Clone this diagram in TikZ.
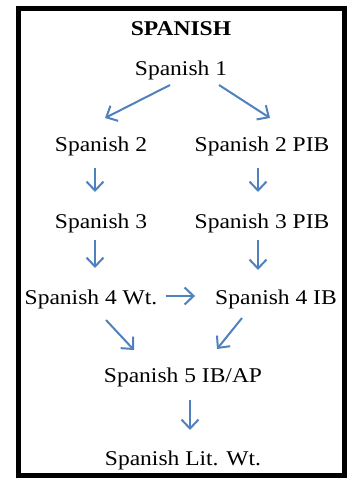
\documentclass[tikz,border=0pt]{standalone}
\usepackage{fontspec}
\setmainfont[FakeStretch=1.12]{Liberation Serif}
\usepackage{tikz}
\usetikzlibrary{arrows.meta}
\definecolor{officeblue}{RGB}{79, 129, 189}
\tikzset{
    course/.style={font=\fontsize{21}{25}\selectfont, inner sep=0pt, anchor=center},
    prereq/.style={officeblue, line width=2pt, -{Straight Barb[length=9pt, width=17pt, line width=2pt]}}
}

\begin{document}
\begin{tikzpicture}[x=1pt, y=-1pt]
            \useasboundingbox                                  (  0,   0) rectangle (347, 479);
            \draw[black, line width=5pt]                       ( 18,   8) rectangle (344, 475);
            \node[course, font=\fontsize{21}{25}\bfseries] (title) at (181,  29) {SPANISH};
            \node[course] (sp1)    at (181,  70) {Spanish 1};
            \node[course] (sp2)    at (101, 146) {Spanish 2};
            \node[course] (sp2pib) at (262, 146) {Spanish 2 PIB};
            \node[course] (sp3)    at (101, 223) {Spanish 3};
            \node[course] (sp3pib) at (262, 223) {Spanish 3 PIB};
            \node[course] (sp4wt)  at ( 91, 299) {Spanish 4 Wt.};
            \node[course] (sp4ib)  at (276, 299) {Spanish 4 IB};
            \node[course] (sp5)    at (183, 377) {Spanish 5 IB/AP};
            \node[course] (split)  at (183, 460) {Spanish Lit. Wt.};
            % arrows between the courses
            \draw[prereq] ([xshift=-11pt, yshift=-15pt]sp1.center)    -- ([xshift=4pt,  yshift=28pt]sp2.center);
            \draw[prereq] ([xshift=38pt,  yshift=-15pt]sp1.center)    -- ([xshift=8pt,  yshift=28pt]sp2pib.center);
            \draw[prereq] ([xshift=-6pt,  yshift=-22pt]sp2.center)    -- ([xshift=-6pt, yshift=31pt]sp3.center);
            \draw[prereq] ([xshift=-4pt,  yshift=-22pt]sp2pib.center) -- ([xshift=-4pt, yshift=31pt]sp3pib.center);
            \draw[prereq] ([xshift=-6pt,  yshift=-17pt]sp3.center)    -- ([xshift=4pt,  yshift=31pt]sp4wt.center);
            \draw[prereq] ([xshift=-4pt,  yshift=-17pt]sp3pib.center) -- ([xshift=-18pt,yshift=29pt]sp4ib.center);
            \draw[prereq] ([xshift=8pt,   yshift=3pt]sp4wt.east)      -- ([xshift=-20pt,yshift=3pt]sp4ib.west);
            \draw[prereq] ([xshift=15pt,  yshift=-21pt]sp4wt.center)  -- ([xshift=-49pt,yshift=27pt]sp5.center);
            \draw[prereq] ([xshift=-34pt, yshift=-19pt]sp4ib.center)  -- ([xshift=34pt, yshift=28pt]sp5.center);
            \draw[prereq] ([xshift=7pt,   yshift=-23pt]sp5.center)    -- ([xshift=7pt,  yshift=30pt]split.center);
        \end{tikzpicture}
\end{document}
